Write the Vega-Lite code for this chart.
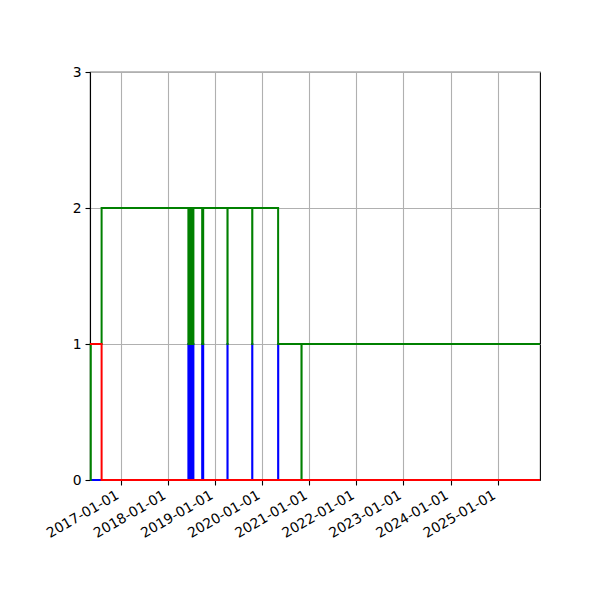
{
  "$schema": "https://vega.github.io/schema/vega-lite/v6.json",
  "description": "Step lines of three series over time",
  "width": 450,
  "height": 408,
  "autosize": {"type": "none"},
  "padding": {"left": 90, "top": 72, "right": 60, "bottom": 120},
  "background": "white",
  "datasets": {
    "red": [
      {"t": "2016-05-06", "v": 1},
      {"t": "2016-08-04", "v": 0},
      {"t": "2025-11-25", "v": 0}
    ],
    "blue": [
      {"t": "2016-05-06", "v": 0},
      {"t": "2018-06-08", "v": 1}, {"t": "2018-06-09", "v": 0},
      {"t": "2018-06-11", "v": 1}, {"t": "2018-06-12", "v": 0},
      {"t": "2018-06-14", "v": 1}, {"t": "2018-06-15", "v": 0},
      {"t": "2018-06-17", "v": 1}, {"t": "2018-06-18", "v": 0},
      {"t": "2018-06-20", "v": 1}, {"t": "2018-06-21", "v": 0},
      {"t": "2018-06-23", "v": 1}, {"t": "2018-06-24", "v": 0},
      {"t": "2018-06-26", "v": 1}, {"t": "2018-06-27", "v": 0},
      {"t": "2018-06-29", "v": 1}, {"t": "2018-06-30", "v": 0},
      {"t": "2018-07-02", "v": 1}, {"t": "2018-07-03", "v": 0},
      {"t": "2018-07-05", "v": 1}, {"t": "2018-07-06", "v": 0},
      {"t": "2018-07-08", "v": 1}, {"t": "2018-07-09", "v": 0},
      {"t": "2018-07-11", "v": 1}, {"t": "2018-07-12", "v": 0},
      {"t": "2018-07-14", "v": 1}, {"t": "2018-07-15", "v": 0},
      {"t": "2018-07-16", "v": 1}, {"t": "2018-07-17", "v": 0},
      {"t": "2018-09-23", "v": 1}, {"t": "2018-09-24", "v": 0},
      {"t": "2018-09-30", "v": 1}, {"t": "2018-10-01", "v": 0},
      {"t": "2019-04-07", "v": 1}, {"t": "2019-04-08", "v": 0},
      {"t": "2019-10-16", "v": 1}, {"t": "2019-10-17", "v": 0},
      {"t": "2020-05-04", "v": 1}, {"t": "2020-05-05", "v": 0},
      {"t": "2025-11-25", "v": 0}
    ],
    "green": [
      {"t": "2016-05-06", "v": 0},
      {"t": "2016-05-12", "v": 1},
      {"t": "2016-08-04", "v": 2},
      {"t": "2018-06-08", "v": 1}, {"t": "2018-06-09", "v": 2},
      {"t": "2018-06-11", "v": 1}, {"t": "2018-06-12", "v": 2},
      {"t": "2018-06-14", "v": 1}, {"t": "2018-06-15", "v": 2},
      {"t": "2018-06-17", "v": 1}, {"t": "2018-06-18", "v": 2},
      {"t": "2018-06-20", "v": 1}, {"t": "2018-06-21", "v": 2},
      {"t": "2018-06-23", "v": 1}, {"t": "2018-06-24", "v": 2},
      {"t": "2018-06-26", "v": 1}, {"t": "2018-06-27", "v": 2},
      {"t": "2018-06-29", "v": 1}, {"t": "2018-06-30", "v": 2},
      {"t": "2018-07-02", "v": 1}, {"t": "2018-07-03", "v": 2},
      {"t": "2018-07-05", "v": 1}, {"t": "2018-07-06", "v": 2},
      {"t": "2018-07-08", "v": 1}, {"t": "2018-07-09", "v": 2},
      {"t": "2018-07-11", "v": 1}, {"t": "2018-07-12", "v": 2},
      {"t": "2018-07-14", "v": 1}, {"t": "2018-07-15", "v": 2},
      {"t": "2018-07-16", "v": 1}, {"t": "2018-07-17", "v": 2},
      {"t": "2018-09-23", "v": 1}, {"t": "2018-09-24", "v": 2},
      {"t": "2018-09-30", "v": 1}, {"t": "2018-10-01", "v": 2},
      {"t": "2019-04-07", "v": 1}, {"t": "2019-04-08", "v": 2},
      {"t": "2019-10-16", "v": 1}, {"t": "2019-10-17", "v": 2},
      {"t": "2020-05-04", "v": 1},
      {"t": "2020-11-01", "v": 0}, {"t": "2020-11-02", "v": 1},
      {"t": "2025-11-25", "v": 1}
    ]
  },
  "encoding": {
    "x": {
      "field": "t",
      "type": "temporal",
      "scale": {
        "type": "utc",
        "domain": [
          {"year": 2016, "month": 5, "date": 6, "utc": true},
          {"year": 2025, "month": 11, "date": 25, "utc": true}
        ]
      },
      "axis": {
        "title": null,
        "format": "%Y-%m-%d",
        "values": [
          {"year": 2017, "month": 1, "date": 1, "utc": true},
          {"year": 2018, "month": 1, "date": 1, "utc": true},
          {"year": 2019, "month": 1, "date": 1, "utc": true},
          {"year": 2020, "month": 1, "date": 1, "utc": true},
          {"year": 2021, "month": 1, "date": 1, "utc": true},
          {"year": 2022, "month": 1, "date": 1, "utc": true},
          {"year": 2023, "month": 1, "date": 1, "utc": true},
          {"year": 2024, "month": 1, "date": 1, "utc": true},
          {"year": 2025, "month": 1, "date": 1, "utc": true}
        ],
        "labelAngle": -30,
        "labelAlign": "right",
        "labelBaseline": "bottom",
        "labelPadding": 15
      }
    },
    "y": {
      "field": "v",
      "type": "quantitative",
      "scale": {"domain": [0, 3], "nice": false},
      "axis": {"title": null, "values": [0, 1, 2, 3]}
    }
  },
  "layer": [
    {
      "data": {"name": "blue"},
      "mark": {"type": "line", "interpolate": "step-after", "color": "#0000ff", "strokeWidth": 2}
    },
    {
      "data": {"name": "green"},
      "mark": {"type": "line", "interpolate": "step-after", "color": "#008000", "strokeWidth": 2}
    },
    {
      "data": {"name": "red"},
      "mark": {"type": "line", "interpolate": "step-after", "color": "#ff0000", "strokeWidth": 2}
    }
  ],
  "config": {
    "font": "DejaVu Sans",
    "view": {"stroke": "#000000", "strokeWidth": 1.1},
    "axis": {
      "grid": true,
      "gridColor": "#b0b0b0",
      "gridWidth": 1.1,
      "domainColor": "#000000",
      "domainWidth": 1.1,
      "tickColor": "#000000",
      "tickWidth": 1.1,
      "tickSize": 5,
      "labelFont": "DejaVu Sans",
      "labelFontSize": 13.9,
      "labelColor": "#000000",
      "labelPadding": 4,
      "labelFlush": false,
      "labelOverlap": false
    }
  }
}
